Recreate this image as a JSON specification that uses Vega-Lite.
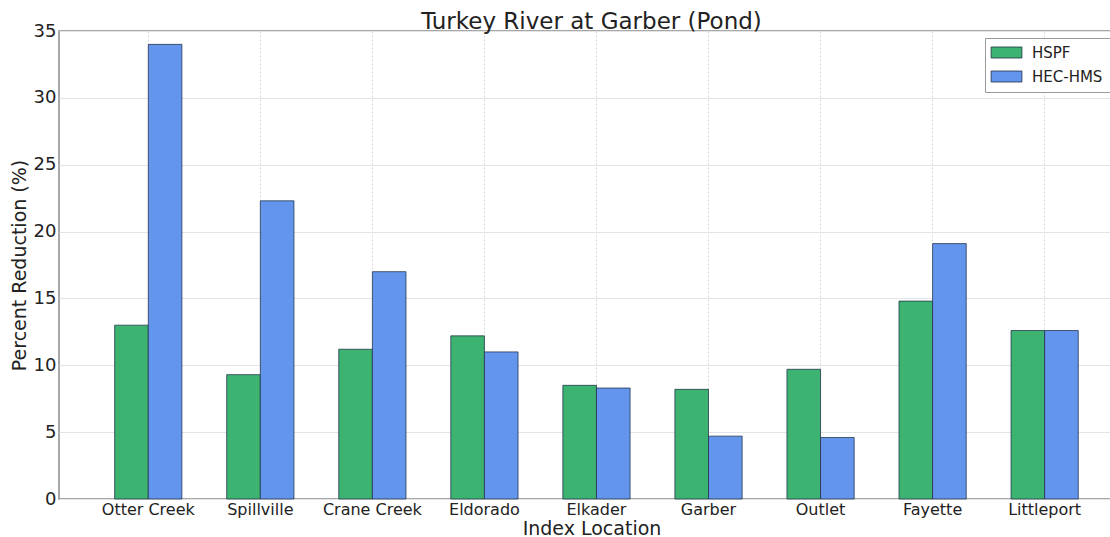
{
  "$schema": "https://vega.github.io/schema/vega-lite/v6.json",
  "autosize": "none",
  "padding": {"left": 59, "top": 31, "right": 0, "bottom": 38},
  "width": 1065,
  "height": 468,
  "background": "white",
  "title": {
    "text": "Turkey River at Garber (Pond)",
    "font": "DejaVu Sans",
    "fontSize": 23,
    "fontWeight": "normal",
    "color": "#222222",
    "anchor": "middle",
    "frame": "group",
    "offset": 3,
    "dy": 15
  },
  "config": {
    "font": "DejaVu Sans",
    "view": {"stroke": "#8a8a8a", "strokeWidth": 1.5}
  },
  "data": {
    "values": [
      {"location": "Otter Creek", "model": "HSPF", "reduction": 13.0},
      {"location": "Otter Creek", "model": "HEC-HMS", "reduction": 34.0},
      {"location": "Spillville", "model": "HSPF", "reduction": 9.3},
      {"location": "Spillville", "model": "HEC-HMS", "reduction": 22.3},
      {"location": "Crane Creek", "model": "HSPF", "reduction": 11.2},
      {"location": "Crane Creek", "model": "HEC-HMS", "reduction": 17.0},
      {"location": "Eldorado", "model": "HSPF", "reduction": 12.2},
      {"location": "Eldorado", "model": "HEC-HMS", "reduction": 11.0},
      {"location": "Elkader", "model": "HSPF", "reduction": 8.5},
      {"location": "Elkader", "model": "HEC-HMS", "reduction": 8.3},
      {"location": "Garber", "model": "HSPF", "reduction": 8.2},
      {"location": "Garber", "model": "HEC-HMS", "reduction": 4.7},
      {"location": "Outlet", "model": "HSPF", "reduction": 9.7},
      {"location": "Outlet", "model": "HEC-HMS", "reduction": 4.6},
      {"location": "Fayette", "model": "HSPF", "reduction": 14.8},
      {"location": "Fayette", "model": "HEC-HMS", "reduction": 19.1},
      {"location": "Littleport", "model": "HSPF", "reduction": 12.6},
      {"location": "Littleport", "model": "HEC-HMS", "reduction": 12.6}
    ]
  },
  "mark": {"type": "bar", "stroke": "#1f2f45", "strokeWidth": 1, "strokeOpacity": 0.75},
  "encoding": {
    "x": {
      "field": "location",
      "type": "nominal",
      "sort": null,
      "scale": {"paddingInner": 0.4, "paddingOuter": 0.4525, "align": 0.549, "round": false},
      "axis": {
        "title": "Index Location",
        "titleFontSize": 19,
        "titleFontWeight": "normal",
        "titleColor": "#222222",
        "titlePadding": 2,
        "labelFontSize": 16,
        "labelColor": "#222222",
        "labelAngle": 0,
        "labelPadding": 2,
        "tickSize": 0,
        "domain": false,
        "grid": true,
        "bandPosition": 0.5,
        "gridColor": "#d8d8d8",
        "gridDash": [2, 2],
        "gridWidth": 1
      }
    },
    "xOffset": {"field": "model", "type": "nominal", "sort": ["HSPF", "HEC-HMS"], "scale": {"paddingInner": 0, "paddingOuter": 0}},
    "y": {
      "field": "reduction",
      "type": "quantitative",
      "scale": {"domain": [0, 35], "nice": false},
      "axis": {
        "title": "Percent Reduction (%)",
        "titleFontSize": 19,
        "titleFontWeight": "normal",
        "titleColor": "#222222",
        "titlePadding": 4,
        "values": [0, 5, 10, 15, 20, 25, 30, 35],
        "labelFontSize": 18,
        "labelColor": "#222222",
        "labelPadding": 3,
        "tickSize": 0,
        "domain": false,
        "grid": true,
        "gridColor": "#e4e4e4",
        "gridWidth": 1
      }
    },
    "color": {
      "field": "model",
      "type": "nominal",
      "sort": ["HSPF", "HEC-HMS"],
      "scale": {"domain": ["HSPF", "HEC-HMS"], "range": ["#3cb371", "#6495ed"]},
      "legend": {
        "title": null,
        "orient": "none",
        "legendX": 926,
        "legendY": 7,
        "direction": "vertical",
        "fillColor": "white",
        "strokeColor": "#9a9a9a",
        "padding": 7,
        "symbolType": "M-2.8,-1H2.8V1H-2.8Z",
        "symbolSize": 121,
        "symbolStrokeColor": "#1f2f45",
        "symbolStrokeWidth": 0.8,
        "symbolOffset": 7,
        "labelFontSize": 15,
        "labelColor": "#222222",
        "labelOffset": 18,
        "rowPadding": 8
      }
    }
  }
}
